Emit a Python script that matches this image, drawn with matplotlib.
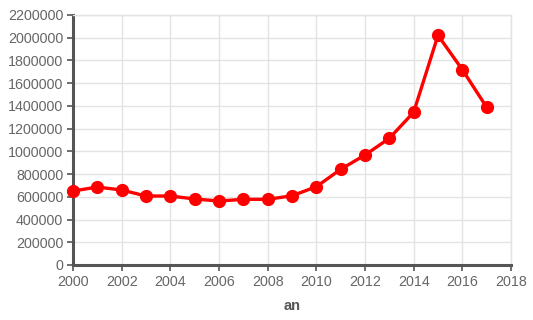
import matplotlib
matplotlib.use("Agg")
import matplotlib.pyplot as plt

years = [2000, 2001, 2002, 2003, 2004, 2005, 2006, 2007, 2008, 2009,
         2010, 2011, 2012, 2013, 2014, 2015, 2016, 2017]
values = [651000, 686000, 660000, 607000, 607000, 581000, 563000, 578000, 578000, 609000,
          689000, 842000, 968000, 1115000, 1344000, 2021000, 1719000, 1388000]
x_ticks = list(range(2000, 2019, 2))
y_ticks = list(range(0, 2200001, 200000))

plt.rcParams['font.family'] = ['Liberation Sans', 'DejaVu Sans']

fig = plt.figure(figsize=(5.33, 3.2), dpi=100)
ax = fig.add_axes([73/533, 55/320, 438/533, 250/320])

ax.plot(years, values, color='#ff0000', lw=2.4, marker='o', ms=8.5, zorder=3, clip_on=False)

ax.set_xlim(2000, 2018)
ax.set_ylim(0, 2200000)
ax.set_xticks(x_ticks)
ax.set_yticks(y_ticks)
ax.set_yticklabels([str(v) for v in y_ticks])
ax.grid(True, color='#e3e3e3', lw=1)
ax.set_axisbelow(True)

for s in ['top', 'right']:
    ax.spines[s].set_color('#e3e3e3')
    ax.spines[s].set_linewidth(1)
for s in ['left', 'bottom']:
    ax.spines[s].set_color('#555555')
    ax.spines[s].set_linewidth(2.2)

ax.tick_params(axis='both', colors='#555555', labelcolor='#666666', labelsize=10.3,
               length=4.5, width=1.2)
ax.tick_params(axis='x', pad=3)
ax.tick_params(axis='y', pad=2.5)
ax.set_xlabel('an', fontsize=10.5, fontweight='bold', color='#555555', labelpad=7)

fig.savefig('out.png', dpi=100)
